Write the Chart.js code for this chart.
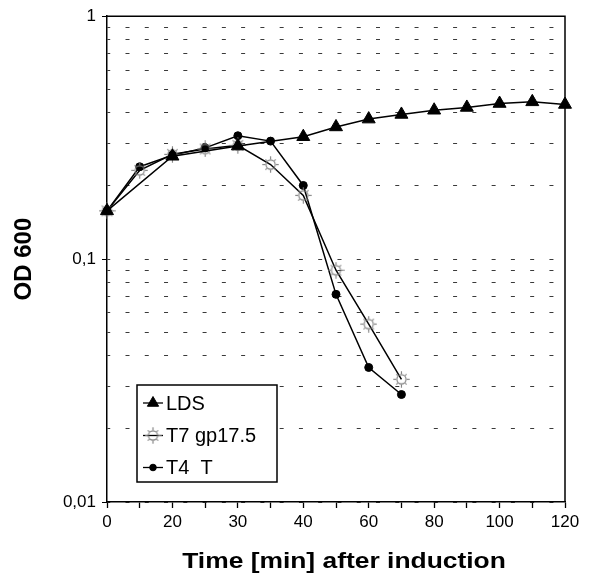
<!DOCTYPE html>
<html><head><meta charset="utf-8">
<script src="https://cdn.jsdelivr.net/npm/chart.js@4/dist/chart.umd.min.js"></script>
<style>html,body{margin:0;padding:0;background:#fff;}#wrap{width:589px;height:573px;}</style>
</head><body><div id="wrap"><canvas id="c" width="589" height="573"></canvas></div>
<script>
// ---- data ----
const categories = ['0','10','20','25','30','35','40','50','60','70','80','90','100','110','120'];
const xTickShown = ['0','20','30','40','60','80','100','120'];
const ldsValues = [0.158, null, 0.265, null, 0.292, null, 0.319, 0.350, 0.377, 0.394, 0.410, 0.421, 0.437, 0.444, 0.433];
const t7Values  = [0.158, 0.232, 0.270, 0.284, 0.294, 0.245, 0.183, 0.090, 0.054, 0.032, null, null, null, null, null];
const t4Values  = [0.158, 0.240, 0.268, 0.287, 0.322, 0.306, 0.201, 0.0716, 0.0358, 0.0277, null, null, null, null, null];
const seriesLabels = ['LDS', 'T7 gp17.5', 'T4  T'];
const yTickValues = [0.01, 0.1, 1];
const yTickLabels = ['0,01', '0,1', '1'];
const xTitle = 'Time [min] after induction';
const yTitle = 'OD 600';

const FAMILY = '"Liberation Sans", Arial, sans-serif';

function makeSun() {
  const s = 17, m = s / 2;
  const c = document.createElement('canvas'); c.width = s; c.height = s;
  const g = c.getContext('2d');
  g.strokeStyle = '#7a7a7a'; g.lineWidth = 1.1;
  g.beginPath(); g.arc(m, m, 4.6, 0, Math.PI * 2); g.stroke();
  for (let i = 0; i < 8; i++) {
    const a = i * Math.PI / 4;
    const r2 = (i % 2 === 0) ? 8.2 : 7.2;
    g.beginPath(); g.moveTo(m + Math.cos(a) * 5.4, m + Math.sin(a) * 5.4);
    g.lineTo(m + Math.cos(a) * r2, m + Math.sin(a) * r2); g.stroke();
  }
  return c;
}
const sun = makeSun();

const frame = {
  id: 'frame',
  beforeDatasetsDraw(chart) {
    const {ctx, chartArea: a} = chart;
    ctx.save(); ctx.strokeStyle = '#000'; ctx.lineWidth = 1.5;
    ctx.beginPath(); ctx.moveTo(a.left, a.top); ctx.lineTo(a.right, a.top); ctx.lineTo(a.right, a.bottom); ctx.stroke();
    ctx.restore();
  },
  afterDatasetsDraw(chart) {
    const {ctx} = chart;
    const bx = 137, by = 385, bw = 140, bh = 97;
    ctx.save();
    ctx.fillStyle = '#fff'; ctx.fillRect(bx, by, bw, bh);
    ctx.strokeStyle = '#000'; ctx.lineWidth = 1.5; ctx.strokeRect(bx, by, bw, bh);
    const rows = [403, 435.5, 467.5];
    chart.data.datasets.forEach((ds, i) => {
      const y = rows[i];
      ctx.strokeStyle = '#000'; ctx.lineWidth = 1.3;
      ctx.beginPath(); ctx.moveTo(143, y); ctx.lineTo(163, y); ctx.stroke();
      ctx.fillStyle = '#000'; ctx.strokeStyle = '#000'; ctx.lineWidth = 1;
      const r = ds.pointStyle === 'triangle' ? 6.5 : (ds.pointStyle === 'circle' ? 3.3 : 6);
      Chart.helpers.drawPoint(ctx, {pointStyle: ds.pointStyle, radius: r, rotation: 0, borderWidth: 1}, 153, y);
      ctx.fillStyle = '#000';
      ctx.font = '20px ' + FAMILY; ctx.textBaseline = 'middle'; ctx.textAlign = 'left';
      ctx.fillText(ds.label, 166, y + 1);
    });
    ctx.restore();
  },
  afterDraw(chart) {
    const {ctx} = chart;
    ctx.save();
    ctx.fillStyle = '#000';
    ctx.font = 'bold 22px ' + FAMILY;
    ctx.textAlign = 'center'; ctx.textBaseline = 'alphabetic';
    ctx.translate(344, 567.5);
    ctx.scale(1.2, 1);
    ctx.fillText(xTitle, 0, 0);
    ctx.restore();
  }
};

new Chart(document.getElementById('c'), {
  type: 'line',
  data: {
    labels: categories,
    datasets: [
      {label: seriesLabels[0], data: ldsValues, borderColor: '#000', borderWidth: 1.5, spanGaps: true,
       pointStyle: 'triangle', pointRadius: 7.5, pointBackgroundColor: '#000', pointBorderColor: '#000', pointBorderWidth: 1},
      {label: seriesLabels[1], data: t7Values, borderColor: '#000', borderWidth: 1.5, spanGaps: true,
       pointStyle: sun, pointRadius: 8},
      {label: seriesLabels[2], data: t4Values, borderColor: '#000', borderWidth: 1.5, spanGaps: true,
       pointStyle: 'circle', pointRadius: 4, pointBackgroundColor: '#000', pointBorderColor: '#000', pointBorderWidth: 1}
    ]
  },
  options: {
    responsive: false, animation: false, devicePixelRatio: 1, events: [],
    layout: {padding: {top: 16, right: 24, left: 0, bottom: 0}},
    plugins: {legend: {display: false}, tooltip: {enabled: false}},
    elements: {line: {tension: 0}},
    scales: {
      x: {
        type: 'category', offset: false,
        afterFit: s => { s.height = 71; },
        grid: {display: true, offset: false, drawOnChartArea: false, drawTicks: true, tickLength: 6, tickColor: '#000', tickWidth: 1.3},
        border: {display: true, color: '#000', width: 1.5},
        ticks: {autoSkip: false, maxRotation: 0, minRotation: 0, padding: 4, color: '#000',
          font: {family: FAMILY, size: 17},
          callback: function (v, i) { return xTickShown.includes(categories[i]) ? categories[i] : ''; }},
        title: {display: false}
      },
      y: {
        type: 'logarithmic', min: 0.01, max: 1,
        afterFit: s => { s.width = 107; },
        afterBuildTicks: s => {
          const t = [];
          for (let e = -2; e < 0; e++) for (let m = 1; m < 10; m++) t.push({value: +(m * Math.pow(10, e)).toPrecision(3)});
          t.push({value: 1});
          s.ticks = t;
        },
        grid: {display: true, drawOnChartArea: true, drawTicks: true, tickLength: 5, lineWidth: 1, color: '#3a3a3a',
          tickColor: c => (c.tick && yTickValues.some(v => Math.abs(v - c.tick.value) < 1e-9)) ? '#000' : 'rgba(0,0,0,0)'},
        border: {display: true, color: '#000', width: 1.5, dash: [4, 15.27], dashOffset: 1.27},
        ticks: {autoSkip: false, padding: 6, color: '#000', font: {family: FAMILY, size: 17},
          callback: function (v) { const i = yTickValues.findIndex(x => Math.abs(x - v) < 1e-9); return i >= 0 ? yTickLabels[i] : ''; }},
        title: {display: true, text: yTitle, color: '#000', padding: {top: 10, bottom: 0},
          font: {family: FAMILY, size: 24, weight: 'bold'}}
      }
    }
  },
  plugins: [frame]
});
</script></body></html>
